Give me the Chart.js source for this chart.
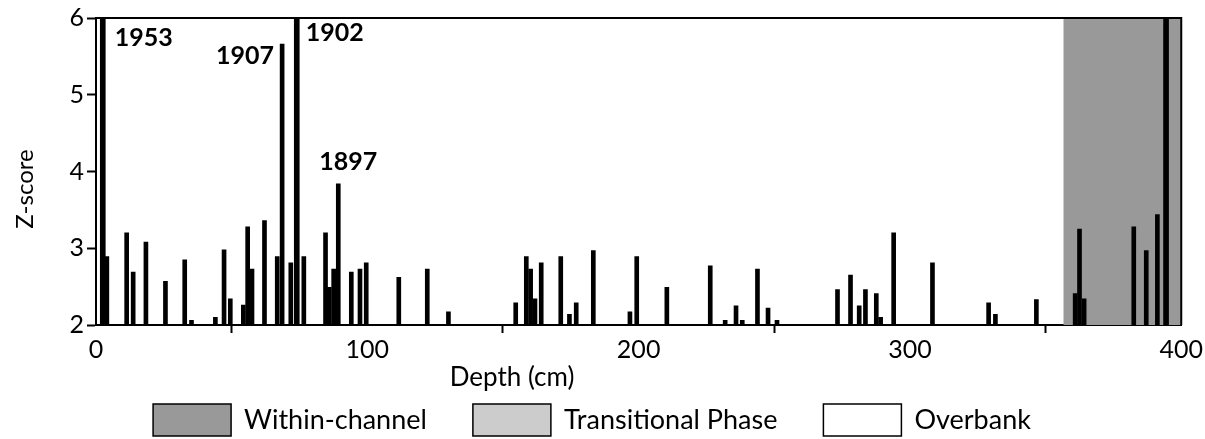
<!DOCTYPE html>
<html>
<head>
<meta charset="utf-8">
<title>Z-score by depth</title>
<script src="https://cdn.jsdelivr.net/npm/chart.js@4.4.1/dist/chart.umd.min.js"></script>
<style>
  html, body { margin: 0; padding: 0; background: #fff; }
  #chart { display: block; }
</style>
</head>
<body>
<canvas id="chart" width="1205" height="439"></canvas>
<script>
// sample depths (cm) and their Z-scores
const depths = [
  4.0, 11.3, 13.7, 18.4, 25.6, 32.7, 35.2, 44.0, 47.2, 49.5,
  54.3, 55.9, 57.5, 62.1, 66.8, 68.6, 71.8, 76.6, 84.6, 86.0,
  87.6, 89.3, 94.1, 97.3, 99.6, 111.6, 122.1, 129.9, 154.7, 158.6,
  160.2, 161.8, 164.1, 171.3, 174.5, 177.0, 183.3, 196.8, 199.3, 210.4,
  226.4, 231.9, 235.9, 238.2, 243.8, 247.7, 251.0, 273.3, 278.1, 281.3,
  283.6, 287.6, 289.2, 294.0, 308.3, 329.0, 331.5, 346.6, 360.9, 362.5,
  364.2, 382.5, 387.1, 391.2
];
const zscores = [
  2.89, 3.20, 2.69, 3.08, 2.57, 2.85, 2.06, 2.10, 2.98, 2.34,
  2.26, 3.28, 2.73, 3.36, 2.89, 5.66, 2.81, 2.89, 3.20, 2.49,
  2.73, 3.84, 2.69, 2.73, 2.81, 2.62, 2.73, 2.17, 2.29, 2.89,
  2.73, 2.34, 2.81, 2.89, 2.14, 2.29, 2.97, 2.17, 2.89, 2.49,
  2.77, 2.06, 2.25, 2.06, 2.73, 2.22, 2.06, 2.46, 2.65, 2.25,
  2.46, 2.41, 2.10, 3.20, 2.81, 2.29, 2.14, 2.33, 2.41, 3.25,
  2.34, 3.28, 2.97, 3.44
];
// peaks that run off the top of the axis
const peakDepths = [2.5, 74.0, 394.4];
const peakScores = [7.2, 6.9, 6.6];

// dated horizons
const years = ["1953", "1907", "1902", "1897"];
const yearDepths = [2.5, 68.6, 74.0, 89.3];

// depositional phases
const phaseNames = ["Within-channel", "Transitional Phase", "Overbank"];
const phaseColors = ["#999999", "#cccccc", "#ffffff"];
const channelRange = [356.6, 400];

const xTicks = [0, 100, 200, 300, 400];
const yTicks = [2, 3, 4, 5, 6];

const FONT = "Lato, 'Open Sans', sans-serif";

// grey band behind the bars for the within-channel section
const channelBand = {
  id: "channelBand",
  beforeDatasetsDraw(chart) {
    const { ctx, chartArea, scales } = chart;
    const x0 = scales.x.getPixelForValue(channelRange[0]);
    const x1 = scales.x.getPixelForValue(channelRange[1]);
    ctx.save();
    ctx.fillStyle = phaseColors[0];
    ctx.fillRect(x0, chartArea.top, x1 - x0, chartArea.bottom - chartArea.top);
    ctx.restore();
  },
};

// top/right frame, year labels, axis titles and phase key
const extras = {
  id: "extras",
  afterDraw(chart) {
    const { ctx, chartArea, scales } = chart;
    ctx.save();
    ctx.strokeStyle = "#000";
    ctx.lineWidth = 2;
    ctx.beginPath();
    ctx.moveTo(chartArea.left, chartArea.top);
    ctx.lineTo(chartArea.right, chartArea.top);
    ctx.lineTo(chartArea.right, chartArea.bottom);
    ctx.stroke();

    // year labels next to their bars
    const place = [
      { dx: 12, y: 38, align: "left" },
      { dx: -8, y: 56, align: "right" },
      { dx: 9, y: 33, align: "left" },
      { dx: 10, y: 162, align: "center" },
    ];
    ctx.fillStyle = "#000";
    ctx.font = "bold 25px " + FONT;
    ctx.textBaseline = "middle";
    years.forEach((yr, i) => {
      const p = place[i];
      ctx.textAlign = p.align;
      ctx.fillText(yr, scales.x.getPixelForValue(yearDepths[i]) + p.dx, p.y);
    });

    // axis titles
    ctx.textAlign = "center";
    ctx.font = "26px " + FONT;
    ctx.fillText("Depth (cm)", 512, 378);
    ctx.save();
    ctx.font = "24px " + FONT;
    ctx.translate(25, 189);
    ctx.rotate(-Math.PI / 2);
    ctx.fillText("Z-score", 0, 0);
    ctx.restore();

    // phase key
    ctx.font = "27px " + FONT;
    const boxW = 78, boxH = 32, gap = 13, spacing = 46;
    const widths = phaseNames.map((n) => boxW + gap + ctx.measureText(n).width);
    const total = widths.reduce((a, b) => a + b, 0) + spacing * (phaseNames.length - 1);
    let x = 592 - total / 2;
    const top = 404;
    ctx.lineWidth = 1.5;
    ctx.textAlign = "left";
    phaseNames.forEach((name, i) => {
      ctx.fillStyle = phaseColors[i];
      ctx.fillRect(x, top, boxW, boxH);
      ctx.strokeRect(x, top, boxW, boxH);
      ctx.fillStyle = "#000";
      ctx.fillText(name, x + boxW + gap, top + boxH / 2);
      x += widths[i] + spacing;
    });
    ctx.restore();
  },
};

const ctx = document.getElementById("chart");
new Chart(ctx, {
  type: "bar",
  data: {
    datasets: [
      {
        data: depths.map((d, i) => ({ x: d, y: zscores[i] })),
        backgroundColor: "#000",
        barThickness: 4,
        grouped: false,
      },
      {
        data: peakDepths.map((d, i) => ({ x: d, y: peakScores[i] })),
        backgroundColor: "#000",
        barThickness: 5,
        grouped: false,
      },
    ],
  },
  options: {
    responsive: false,
    animation: false,
    devicePixelRatio: 1,
    layout: { padding: { top: 15, right: 21, left: 0, bottom: 0 } },
    plugins: {
      legend: { display: false },
      tooltip: { enabled: false },
    },
    scales: {
      x: {
        type: "linear",
        min: 0,
        max: 400,
        offset: false,
        afterBuildTicks: (s) => { s.ticks = xTicks.map((v) => ({ value: v })); },
        afterFit: (s) => { s.height = 114; },
        grid: {
          drawOnChartArea: false,
          drawTicks: true,
          tickLength: 8,
          tickWidth: 2,
          tickColor: "#000",
        },
        border: { display: true, color: "#000", width: 2 },
        ticks: { color: "#000", font: { family: FONT, size: 25 }, padding: 2, maxRotation: 0 },
      },
      y: {
        min: 2,
        max: 6,
        afterBuildTicks: (s) => { s.ticks = yTicks.map((v) => ({ value: v })); },
        afterFit: (s) => { s.width = 96; },
        grid: {
          drawOnChartArea: false,
          drawTicks: true,
          tickLength: 9,
          tickWidth: 2,
          tickColor: "#000",
        },
        border: { display: true, color: "#000", width: 2 },
        ticks: { color: "#000", font: { family: FONT, size: 25 }, padding: 3 },
      },
    },
  },
  plugins: [channelBand, extras],
});
</script>
</body>
</html>
